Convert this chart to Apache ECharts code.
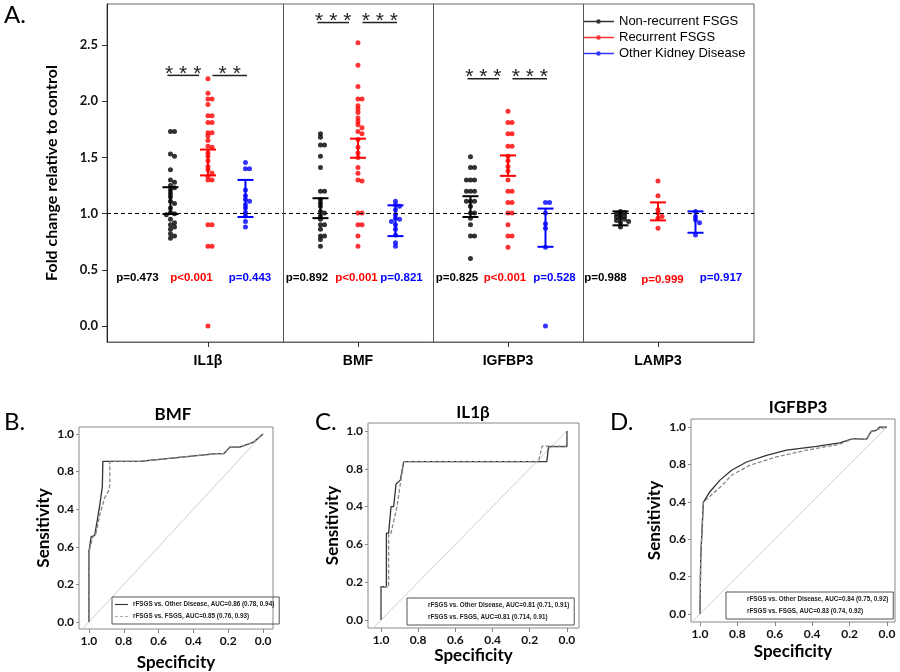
<!DOCTYPE html>
<html><head><meta charset="utf-8">
<script src="https://cdn.jsdelivr.net/npm/echarts@6/dist/echarts.min.js"></script>
<style>html,body{margin:0;padding:0;background:#fff}#c{width:900px;height:672px}</style>
</head><body><div id="c"></div>
<script>
// ---------- Panel A data ----------
const genes = ['IL1β', 'BMF', 'IGFBP3', 'LAMP3'];
const groups = ['Non-recurrent FSGS', 'Recurrent FSGS', 'Other Kidney Disease'];
const groupColors = ['#000000', '#ff0000', '#0000ff'];

const il1b_nonrec = [1.73,1.73,1.53,1.51,1.39,1.30,1.28,1.25,1.23,1.21,1.18,1.15,1.11,1.09,1.05,1.01,1.00,0.99,0.95,0.92,0.90,0.88,0.86,0.82,0.80,0.78];
const il1b_rec = [2.20,2.07,2.02,2.02,1.97,1.87,1.87,1.81,1.81,1.72,1.72,1.69,1.65,1.60,1.59,1.54,1.51,1.47,1.42,1.39,1.36,1.33,1.30,1.30,0.90,0.90,0.71,0.71,0.0];
const il1b_other = [1.455,1.40,1.40,1.21,1.16,1.125,1.11,1.08,1.05,1.01,0.98,0.93,0.88];
const bmf_nonrec = [1.71,1.68,1.61,1.61,1.51,1.41,1.20,1.20,1.125,1.095,1.065,1.02,1.005,0.98,0.95,0.90,0.90,0.86,0.80,0.80,0.77,0.71];
const bmf_rec = [2.52,2.32,2.13,2.02,2.02,1.96,1.93,1.90,1.85,1.82,1.79,1.765,1.73,1.71,1.66,1.59,1.54,1.50,1.41,1.36,1.30,1.29,1.005,1.005,0.90,0.90,0.80,0.71];
const bmf_other = [1.11,1.08,1.065,1.035,0.99,0.96,0.95,0.93,0.90,0.86,0.81,0.74,0.71];
const igfbp3_nonrec = [1.506,1.41,1.41,1.30,1.30,1.30,1.20,1.20,1.20,1.11,1.11,1.11,1.065,1.005,1.005,0.96,0.90,0.80,0.80,0.60];
const igfbp3_rec = [1.91,1.81,1.81,1.71,1.71,1.60,1.60,1.51,1.47,1.42,1.38,1.30,1.20,1.20,1.10,1.10,1.005,1.005,0.90,0.80,0.80,0.70];
const igfbp3_other = [1.10,1.10,1.005,0.91,0.87,0.70,0.0];
const lamp3_nonrec = [1.02,1.01,1.00,0.99,0.98,0.97,0.96,0.95,0.94,0.93,0.92,0.88];
const lamp3_rec = [1.29,1.16,1.035,1.005,0.975,0.96,0.87];
const lamp3_other = [1.02,0.975,0.945,0.92,0.81];

// error bars [low, high] per group
const il1b_err = [[0.997,1.235],[1.34,1.57],[0.97,1.30]];
const bmf_err = [[0.96,1.137],[1.497,1.667],[0.80,1.074]];
const igfbp3_err = [[0.97,1.155],[1.336,1.518],[0.705,1.045]];
const lamp3_err = [[0.896,1.02],[0.94,1.10],[0.83,1.02]];

const pLabels = [
  ['p=0.473','p<0.001','p=0.443'],
  ['p=0.892','p<0.001','p=0.821'],
  ['p=0.825','p<0.001','p=0.528'],
  ['p=0.988','p=0.999','p=0.917']
];
const sigLabels = [['***','**'],['***','***'],['***','***'],[]];
const yTicksA = [0, 0.5, 1.0, 1.5, 2.0, 2.5];

// ---------- ROC data (specificity, sensitivity) ----------
const bmfOther = [[1,0],[1,0.374],[0.987,0.454],[0.967,0.459],[0.939,0.614],[0.923,0.72],[0.92,0.73],[0.92,0.854],[0.709,0.854],[0.268,0.895],[0.226,0.895],[0.19,0.93],[0.134,0.93],[0.057,0.955],[0.029,0.977],[0,1]];
const bmfFsgs = [[1,0],[1,0.374],[0.975,0.46],[0.96,0.47],[0.935,0.58],[0.91,0.66],[0.885,0.70],[0.88,0.73],[0.88,0.854],[0.709,0.854],[0.268,0.895],[0.226,0.895],[0.19,0.93],[0.134,0.93],[0.057,0.955],[0.029,0.977],[0,1]];
const il1bOther = [[1,0],[1,0.176],[0.971,0.176],[0.971,0.46],[0.959,0.46],[0.946,0.60],[0.932,0.60],[0.919,0.72],[0.896,0.74],[0.878,0.838],[0.108,0.838],[0.099,0.917],[0,0.917],[0,1]];
const il1bFsgs = [[1,0],[1,0.176],[0.959,0.176],[0.959,0.46],[0.946,0.46],[0.914,0.60],[0.896,0.72],[0.878,0.838],[0.152,0.838],[0.134,0.92],[0,0.92],[0,1]];
const igfbp3Other = [[1,0],[0.996,0.30],[0.982,0.597],[0.947,0.654],[0.893,0.716],[0.831,0.769],[0.751,0.813],[0.644,0.849],[0.537,0.876],[0.377,0.897],[0.253,0.915],[0.181,0.938],[0.11,0.934],[0.084,0.977],[0.057,0.982],[0.039,1.0],[0,1]];
const igfbp3Fsgs = [[1,0],[0.996,0.30],[0.982,0.597],[0.929,0.645],[0.88,0.69],[0.831,0.742],[0.733,0.796],[0.591,0.84],[0.431,0.876],[0.253,0.908],[0.181,0.938],[0.11,0.934],[0.084,0.977],[0.04,0.99],[0,1]];
const rocNames = [
  ['rFSGS vs. Other Disease, AUC=0.86 (0.78, 0.94)', 'rFSGS vs. FSGS, AUC=0.85 (0.76, 0.93)'],
  ['rFSGS vs. Other Disease, AUC=0.81 (0.71, 0.91)', 'rFSGS vs. FSGS, AUC=0.81 (0.714, 0.91)'],
  ['rFSGS vs. Other Disease, AUC=0.84 (0.75, 0.92)', 'rFSGS vs. FSGS, AUC=0.83 (0.74, 0.92)']
];
const rocTitles = ['BMF', 'IL1β', 'IGFBP3'];
const rocTickVals = [0, 0.2, 0.4, 0.6, 0.8, 1.0];
const rocYTickLabels = ['0.0', '0.2', '0.6', '0.4', '0.8', '1.0'];
const rocXTickLabels = ['0.0', '0.2', '0.4', '0.6', '0.8', '1.0'];

// ---------- build ----------
const values = [
  [il1b_nonrec, il1b_rec, il1b_other],
  [bmf_nonrec, bmf_rec, bmf_other],
  [igfbp3_nonrec, igfbp3_rec, igfbp3_other],
  [lamp3_nonrec, lamp3_rec, lamp3_other]
];
const errs = [il1b_err, bmf_err, igfbp3_err, lamp3_err];
const groupOffset = [-0.25, 0, 0.25];
// layout only
const pOffsets = [[-0.47,-0.11,0.28],[-0.34,-0.01,0.29],[-0.34,-0.02,0.31],[-0.35,0.03,0.42]];
const pY = [0.43, 0.43, 0.43, 0.43];
const pYLamp = [0.43, 0.41, 0.43];
const sigY = [2.23, 2.70, 2.20];

function swarm(vals) {
  const placed = [];
  const cands = [0, 0.027, -0.027, 0.054, -0.054, 0.081, -0.081];
  return vals.map(v => {
    for (const c of cands) {
      if (!placed.some(p => Math.abs(p[1] - v) < 0.03 && Math.abs(p[0] - c) < 0.025)) {
        placed.push([c, v]); return c;
      }
    }
    return 0;
  });
}

const scatterSeries = groups.map((name, k) => {
  const data = [];
  values.forEach((gv, g) => {
    const offs = swarm(gv[k]);
    gv[k].forEach((v, i) => data.push([g + groupOffset[k] + offs[i], v]));
  });
  return {
    name, type: 'scatter', xAxisIndex: 0, yAxisIndex: 0, symbolSize: 5,
    itemStyle: { color: groupColors[k] }, data, z: 3, silent: true
  };
});

const errSeries = groups.map((name, k) => ({
  name: name + ' err', type: 'custom', xAxisIndex: 0, yAxisIndex: 0, z: 4, silent: true,
  data: errs.map((e, g) => [g + groupOffset[k], e[k][0], e[k][1]]),
  renderItem: (params, api) => {
    const x = api.value(0);
    const lo = api.coord([x, api.value(1)]);
    const hi = api.coord([x, api.value(2)]);
    const st = { stroke: groupColors[k], lineWidth: 2 };
    return { type: 'group', children: [
      { type: 'line', shape: { x1: lo[0], y1: lo[1], x2: hi[0], y2: hi[1] }, style: st },
      { type: 'line', shape: { x1: lo[0] - 8, y1: lo[1], x2: lo[0] + 8, y2: lo[1] }, style: st },
      { type: 'line', shape: { x1: hi[0] - 8, y1: hi[1], x2: hi[0] + 8, y2: hi[1] }, style: st }
    ]};
  }
}));

const pData = [];
pLabels.forEach((row, g) => row.forEach((t, k) => pData.push([g + pOffsets[g][k], g === 3 ? pYLamp[k] : pY[g], k, t])));
const pSeries = {
  name: 'pvals', type: 'custom', xAxisIndex: 0, yAxisIndex: 0, silent: true, z: 5,
  data: pData.map(d => [d[0], d[1], d[2]]),
  renderItem: (params, api) => {
    const d = pData[params.dataIndex];
    const pt = api.coord([d[0], d[1]]);
    return { type: 'text', x: pt[0], y: pt[1], style: {
      text: d[3], textAlign: 'center', textVerticalAlign: 'middle',
      fill: groupColors[d[2]], font: 'bold 11.5px "Liberation Sans", Arial, sans-serif' } };
  }
};

const sigData = [];
sigLabels.forEach((row, g) => row.forEach((t, j) => {
  const x1 = j === 0 ? g - 0.27 : g + 0.03;
  const x2 = j === 0 ? g - 0.06 : g + 0.26;
  sigData.push([x1, x2, sigY[g], t]);
}));
const sigSeries = {
  name: 'sig', type: 'custom', xAxisIndex: 0, yAxisIndex: 0, silent: true, z: 5,
  data: sigData.map(d => [d[0], d[1], d[2]]),
  renderItem: (params, api) => {
    const d = sigData[params.dataIndex];
    const a = api.coord([d[0], d[2]]);
    const b = api.coord([d[1], d[2]]);
    return { type: 'group', children: [
      { type: 'line', shape: { x1: a[0], y1: a[1], x2: b[0], y2: b[1] }, style: { stroke: '#222', lineWidth: 1.5 } },
      { type: 'text', x: (a[0] + b[0]) / 2, y: a[1] + 9, style: {
        text: d[3].split('').join(' '), textAlign: 'center', textVerticalAlign: 'bottom',
        fill: '#222', font: '21px "Liberation Sans", Arial, sans-serif' } }
    ]};
  }
};

const refSeries = {
  name: 'ref', type: 'line', xAxisIndex: 0, yAxisIndex: 0, data: [], silent: true,
  markLine: { silent: true, symbol: 'none', animation: false, label: { show: false },
    data: [
      { yAxis: 1, lineStyle: { type: [4, 3], color: '#000', width: 1 } },
      { xAxis: 0.5, lineStyle: { type: 'solid', color: '#555', width: 1 } },
      { xAxis: 1.5, lineStyle: { type: 'solid', color: '#555', width: 1 } },
      { xAxis: 2.5, lineStyle: { type: 'solid', color: '#555', width: 1 } }
    ] }
};

// ROC layout
const rocGrids = [
  { left: 79, top: 427, width: 194, height: 202, xr: [-0.057, 1.057], yr: [-0.037, 1.037], yGap: 27, xGap: 25 },
  { left: 368, top: 423, width: 211, height: 205, xr: [-0.065, 1.07], yr: [-0.042, 1.042], yGap: 27, xGap: 19 },
  { left: 691, top: 419, width: 204, height: 203, xr: [-0.043, 1.048], yr: [-0.043, 1.043], yGap: 28, xGap: 21 }
];
const rocLegendPos = [[112, 597], [407, 598], [726, 592]];
const rocCurves = [[bmfOther, bmfFsgs], [il1bOther, il1bFsgs], [igfbp3Other, igfbp3Fsgs]];
const solidIcon = 'path://M0,0 H14 V1.2 H0 Z';
const dashIcon = 'path://M0,0 H3 V1.2 H0 Z M5.5,0 H8.5 V1.2 H5.5 Z M11,0 H14 V1.2 H11 Z';

const grids = [{ left: 107, top: 4, width: 647, height: 338, show: true, borderColor: '#666', borderWidth: 1 }];
const xAxes = [{
  gridIndex: 0, type: 'value', min: -0.673, max: 3.64, splitLine: { show: false },
  axisLine: { show: true, onZero: false, lineStyle: { color: '#666' } },
  axisTick: { show: true, customValues: [0, 1, 2, 3], length: 5, lineStyle: { color: '#333' } },
  axisLabel: { customValues: [0, 1, 2, 3], formatter: v => genes[Math.round(v)], fontWeight: 'bold', fontSize: 14,
    fontFamily: '"Liberation Sans", Arial, sans-serif', color: '#000', margin: 12 }
}];
const yAxes = [{
  gridIndex: 0, type: 'value', min: -0.142, max: 2.865, splitLine: { show: false },
  axisLine: { show: true, onZero: false, lineStyle: { color: '#222' } },
  axisTick: { show: true, customValues: yTicksA, length: 5, lineStyle: { color: '#333' } },
  axisLabel: { customValues: yTicksA, formatter: v => v.toFixed(1), fontWeight: 'bold', fontSize: 13,
    fontFamily: 'Lato, sans-serif', color: '#111', margin: 9 },
  name: 'Fold change relative to control', nameLocation: 'middle', nameGap: 47,
  nameTextStyle: { fontWeight: 'bold', fontSize: 16, fontFamily: 'Lato, sans-serif', color: '#000' }
}];
const rocSeries = [];
const legends = [{
  data: groups, orient: 'vertical', left: 583, top: 14, padding: 0, selectedMode: false,
  icon: 'path://M0,1.75 L34,1.75 L34,3.25 L0,3.25 Z M14.5,2.5 A2.5,2.5 0 1,1 19.5,2.5 A2.5,2.5 0 1,1 14.5,2.5 Z',
  itemWidth: 31, itemHeight: 5, itemGap: 1,
  textStyle: { fontSize: 13, lineHeight: 15, fontFamily: '"Liberation Sans", Arial, sans-serif', color: '#000' }
}];
rocGrids.forEach((g, i) => {
  const gi = i + 1;
  grids.push({ left: g.left, top: g.top, width: g.width, height: g.height, show: true, borderColor: '#888', borderWidth: 1 });
  xAxes.push({
    gridIndex: gi, type: 'value', inverse: true, min: g.xr[0], max: g.xr[1], splitLine: { show: false },
    axisLine: { show: false, onZero: false },
    axisTick: { show: true, customValues: rocTickVals, length: 4, lineStyle: { color: '#888' } },
    axisLabel: { customValues: rocTickVals, formatter: v => rocXTickLabels[Math.round(v * 5)], fontWeight: 'bold', fontSize: 12,
      fontFamily: 'Lato, sans-serif', color: '#111', margin: 6 },
    name: 'Specificity', nameLocation: 'middle', nameGap: g.xGap,
    nameTextStyle: { fontWeight: 'bold', fontSize: 17, fontFamily: 'Lato, sans-serif', color: '#000', verticalAlign: 'top' }
  });
  yAxes.push({
    gridIndex: gi, type: 'value', min: g.yr[0], max: g.yr[1], splitLine: { show: false },
    axisLine: { show: false, onZero: false },
    axisTick: { show: true, customValues: rocTickVals, length: 3, lineStyle: { color: '#888' } },
    axisLabel: { customValues: rocTickVals, formatter: v => rocYTickLabels[Math.round(v * 5)], fontWeight: 'bold', fontSize: 12,
      fontFamily: 'Lato, sans-serif', color: '#111', margin: 5 },
    name: 'Sensitivity', nameLocation: 'middle', nameGap: g.yGap,
    nameTextStyle: { fontWeight: 'bold', fontSize: 17, fontFamily: 'Lato, sans-serif', color: '#000' }
  });
  rocSeries.push({
    name: 'diag' + i, type: 'line', xAxisIndex: gi, yAxisIndex: gi, symbol: 'none', silent: true,
    data: [[1.2, -0.2], [0, 1]], lineStyle: { color: '#cfcfcf', width: 1 }, clip: true, z: 1
  });
  rocSeries.push({
    name: rocNames[i][0], type: 'line', xAxisIndex: gi, yAxisIndex: gi, symbol: 'none', silent: true,
    data: rocCurves[i][0], lineStyle: { color: '#333', width: 1.3 }, itemStyle: { color: '#333' }, z: 2
  });
  rocSeries.push({
    name: rocNames[i][1], type: 'line', xAxisIndex: gi, yAxisIndex: gi, symbol: 'none', silent: true,
    data: rocCurves[i][1], lineStyle: { color: '#888', width: 1.3, type: [4, 2] }, itemStyle: { color: '#aaa' }, z: 3
  });
  const hideIcon = i > 0;
  legends.push({
    data: [
      { name: rocNames[i][0], icon: solidIcon, itemStyle: { color: '#333', opacity: hideIcon ? 0 : 1 } },
      { name: rocNames[i][1], icon: dashIcon, itemStyle: { color: '#aaa', opacity: hideIcon ? 0 : 1 } }
    ],
    orient: 'vertical', left: rocLegendPos[i][0], top: rocLegendPos[i][1],
    padding: [3, 5, 3, 3], borderColor: '#555', borderWidth: 1, selectedMode: false,
    itemWidth: 13, itemHeight: 2, itemGap: 3,
    textStyle: { fontSize: 6.3, lineHeight: 9, fontWeight: 'bold', fontFamily: '"Liberation Sans", Arial, sans-serif', color: '#222' }
  });
});

const titleFont = 'bold 17px Lato, sans-serif';
const letterFont = '24px Lato, sans-serif';
const graphics = [
  { type: 'text', left: 4, top: 3, style: { text: 'A.', font: letterFont, fill: '#000' } },
  { type: 'text', left: 4, top: 410, style: { text: 'B.', font: letterFont, fill: '#000' } },
  { type: 'text', left: 315, top: 410, style: { text: 'C.', font: letterFont, fill: '#000' } },
  { type: 'text', left: 610, top: 410, style: { text: 'D.', font: letterFont, fill: '#000' } },
  { type: 'text', x: 173, y: 415, style: { text: rocTitles[0], font: titleFont, fill: '#000', textAlign: 'center', textVerticalAlign: 'middle' } },
  { type: 'text', x: 473, y: 413, style: { text: rocTitles[1], font: titleFont, fill: '#000', textAlign: 'center', textVerticalAlign: 'middle' } },
  { type: 'text', x: 798, y: 408, style: { text: rocTitles[2], font: titleFont, fill: '#000', textAlign: 'center', textVerticalAlign: 'middle' } }
];

const chart = echarts.init(document.getElementById('c'), null, { renderer: 'canvas' });
chart.setOption({
  animation: false,
  backgroundColor: '#fff',
  grid: grids, xAxis: xAxes, yAxis: yAxes, legend: legends, graphic: graphics,
  series: [refSeries, ...scatterSeries, ...errSeries, pSeries, sigSeries, ...rocSeries]
});
</script></body></html>
